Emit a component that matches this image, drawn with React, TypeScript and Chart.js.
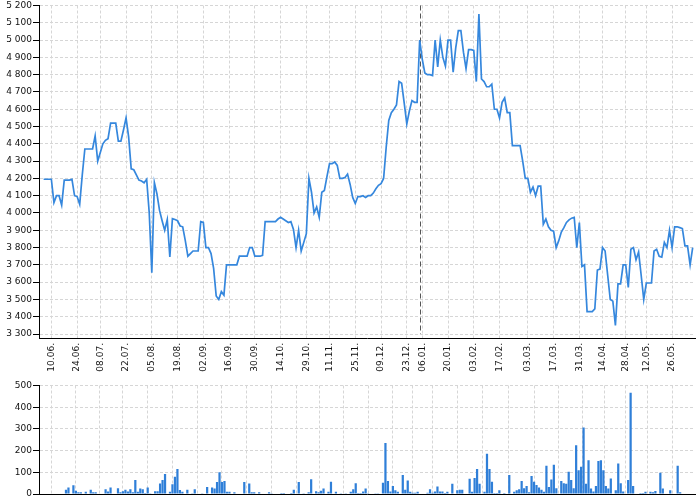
import React, { useEffect, useRef } from 'react';
import { Chart, registerables } from 'chart.js';

Chart.register(...registerables);

// ---- data ----
const prices: number[] = [
  4195, 4195, 4195, 4195, 4060, 4100, 4100, 4045, 4190, 4190,
  4190, 4195, 4100, 4095, 4050, 4220, 4370, 4370, 4370, 4370,
  4445, 4300, 4350, 4400, 4420, 4430, 4520, 4520, 4520, 4415,
  4415, 4480, 4550, 4440, 4255, 4250, 4220, 4190, 4185, 4175,
  4195, 4000, 3655, 4175, 4110, 4015, 3955, 3900, 3962, 3745,
  3967, 3962, 3955, 3925, 3920, 3840, 3750, 3765, 3780, 3780,
  3780, 3950, 3945, 3800, 3800, 3765, 3680, 3520, 3500, 3545,
  3525, 3700, 3700, 3700, 3700, 3700, 3750, 3750, 3750, 3750,
  3800, 3800, 3750, 3750, 3750, 3755, 3950, 3950, 3950, 3950,
  3950, 3965, 3975, 3965, 3955, 3945, 3950, 3905, 3800, 3900,
  3780, 3830, 3880, 4200, 4120, 4000, 4035, 3975, 4120, 4130,
  4210, 4285, 4285, 4295, 4275, 4200, 4200, 4205, 4225, 4165,
  4090, 4055, 4095, 4095, 4100, 4090, 4100, 4100, 4115, 4140,
  4160, 4170, 4200, 4380, 4535, 4580, 4600, 4625, 4760, 4750,
  4635, 4515, 4590, 4650, 4640, 4640, 5000, 4890, 4810, 4800,
  4800, 4795, 5000, 4845, 5000, 4900, 4850, 5000, 5000, 4815,
  4955, 5055, 5055, 4930, 4835, 4945, 4945, 4940, 4760, 5150,
  4775, 4760, 4730, 4730, 4745, 4600, 4600, 4550, 4640, 4665,
  4580, 4580, 4390, 4390, 4390, 4390, 4300, 4200, 4200, 4120,
  4150, 4100, 4155, 4155, 3935, 3965, 3920, 3900, 3895, 3800,
  3840, 3890, 3915, 3945, 3960, 3970, 3975, 3800, 3945, 3690,
  3700, 3430, 3430, 3430, 3445, 3670, 3675, 3800, 3780, 3640,
  3500, 3490, 3350, 3590, 3590, 3700, 3700, 3570, 3790, 3800,
  3730, 3775, 3640, 3500, 3595, 3595, 3595, 3780, 3790, 3750,
  3745, 3830, 3800, 3900, 3800, 3920, 3920, 3915, 3910, 3810,
  3810, 3700, 3800,
];

const volumes: number[] = [
  0, 0, 0, 0, 20, 30, 0, 40, 15, 8,
  8, 0, 10, 0, 20, 8, 8, 0, 0, 0,
  22, 12, 30, 0, 0, 27, 8, 13, 20, 12,
  22, 8, 65, 10, 25, 22, 5, 30, 3, 0,
  13, 13, 48, 65, 92, 0, 10, 45, 80, 115,
  18, 10, 0, 20, 0, 3, 22, 0, 0, 3,
  0, 32, 0, 30, 25, 55, 100, 55, 60, 10,
  10, 0, 8, 0, 0, 0, 55, 0, 48, 8,
  8, 0, 8, 0, 0, 0, 8, 3, 0, 0,
  0, 5, 5, 0, 0, 5, 20, 0, 55, 0,
  3, 0, 8, 68, 0, 13, 8, 15, 25, 0,
  10, 57, 0, 10, 0, 3, 0, 3, 0, 10,
  22, 50, 5, 5, 12, 25, 3, 0, 0, 3,
  3, 0, 52, 235, 60, 12, 37, 17, 10, 0,
  88, 20, 62, 10, 6, 6, 10, 0, 0, 0,
  6, 22, 6, 11, 35, 12, 12, 5, 10, 0,
  47, 0, 17, 20, 20, 0, 0, 70, 10, 74,
  115, 47, 0, 10, 186, 115, 57, 5, 5, 17,
  0, 5, 0, 88, 0, 10, 17, 22, 60, 27,
  37, 8, 83, 56, 42, 30, 20, 10, 130, 32,
  67, 135, 27, 0, 60, 50, 47, 103, 65, 27,
  225, 110, 126, 307, 47, 156, 25, 12, 37, 152,
  156, 110, 37, 25, 72, 0, 17, 140, 50, 12,
  0, 65, 467, 37, 0, 0, 5, 5, 10, 0,
  10, 8, 14, 0, 98, 25, 0, 0, 17, 0,
  0, 130, 8,
];

const tickLabels: string[] = [
  '10.06.', '24.06.', '08.07.', '22.07.', '05.08.', '19.08.', '02.09.', '16.09.',
  '30.09.', '14.10.', '29.10.', '11.11.', '25.11.', '09.12.', '23.12.', '06.01.',
  '20.01.', '03.02.', '17.02.', '03.03.', '17.03.', '31.03.', '14.04.', '28.04.',
  '12.05.', '26.05.',
];
const tickIndex: number[] = [
  3, 13, 22, 32, 42, 52, 62, 72, 82, 92, 102, 111, 121, 131, 141, 147,
  157, 167, 177, 188, 198, 208, 217, 226, 234, 244,
];
const priceTicks: number[] = [
  3300, 3400, 3500, 3600, 3700, 3800, 3900, 4000, 4100, 4200,
  4300, 4400, 4500, 4600, 4700, 4800, 4900, 5000, 5100, 5200,
];
const volumeTicks: number[] = [0, 100, 200, 300, 400, 500];
const markerIndex = 146;

// ---- style ----
const FONT = "'DejaVu Sans', sans-serif";
const LINE_COLOR = '#3587dd';
const BAR_COLOR = '#2f7fd8';
const GRID_COLOR = '#d6d6d6';
const TEXT_COLOR = '#111';

const fmt = (v: number) => String(v).replace(/\B(?=(\d{3})+(?!\d))/g, ' ');

const markerPlugin = {
  id: 'marker',
  beforeDatasetsDraw(chart: any) {
    const { ctx, chartArea, scales } = chart;
    const px = Math.round(scales.x.getPixelForValue(markerIndex)) + 0.5;
    ctx.save();
    ctx.strokeStyle = '#555';
    ctx.lineWidth = 1;
    ctx.setLineDash([5, 3]);
    ctx.beginPath();
    ctx.moveTo(px, chartArea.top);
    ctx.lineTo(px, chartArea.bottom - 4);
    ctx.stroke();
    ctx.restore();
  },
};

function xScale(showLabels: boolean, height: number) {
  return {
    type: 'linear' as const,
    bounds: 'data' as const,
    min: -1.8,
    max: 252.9,
    afterBuildTicks: (s: any) => {
      s.ticks = tickIndex.map((v) => ({ value: v }));
    },
    afterFit: (s: any) => {
      s.height = height;
    },
    ticks: {
      display: showLabels,
      autoSkip: false,
      minRotation: 90,
      maxRotation: 90,
      padding: 5,
      color: TEXT_COLOR,
      font: { family: FONT, size: 9, lineHeight: 1 },
      callback: (_v: any, i: number) => tickLabels[i],
    },
    grid: { color: GRID_COLOR, drawTicks: false },
    border: { display: true, color: '#000', width: 1, dash: [3, 2] },
  };
}

function yScale(min: number, max: number, ticks: number[]) {
  return {
    type: 'linear' as const,
    bounds: 'data' as const,
    min,
    max,
    afterBuildTicks: (s: any) => {
      s.ticks = ticks.map((v) => ({ value: v }));
    },
    afterFit: (s: any) => {
      s.width = 39;
    },
    ticks: {
      padding: 1,
      color: TEXT_COLOR,
      font: { family: FONT, size: 9, lineHeight: 1 },
      callback: (v: any) => fmt(Number(v)),
    },
    grid: {
      color: GRID_COLOR,
      tickColor: '#000',
      tickLength: 6,
      tickBorderDash: [],
      tickWidth: 1,
    },
    border: { display: true, color: '#000', width: 1, dash: [3, 2] },
  };
}

export default function App() {
  const topRef = useRef<HTMLCanvasElement | null>(null);
  const botRef = useRef<HTMLCanvasElement | null>(null);

  useEffect(() => {
    document.body.style.margin = '0';
    const top = new Chart(topRef.current as HTMLCanvasElement, {
      type: 'line',
      data: {
        datasets: [
          {
            data: prices.map((v, i) => ({ x: i, y: v })),
            borderColor: LINE_COLOR,
            borderWidth: 1.7,
            pointRadius: 0,
            tension: 0,
            fill: false,
          },
        ],
      },
      options: {
        animation: false,
        responsive: false,
        maintainAspectRatio: false,
        layout: { padding: { top: 5, right: 5, left: 0, bottom: 0 } },
        plugins: { legend: { display: false }, tooltip: { enabled: false } },
        scales: {
          x: xScale(true, 42),
          y: yScale(3276.9, 5200, priceTicks),
        },
      } as any,
      plugins: [markerPlugin],
    });

    const bot = new Chart(botRef.current as HTMLCanvasElement, {
      type: 'bar',
      data: {
        datasets: [
          {
            data: volumes.map((v, i) => ({ x: i, y: v })),
            backgroundColor: BAR_COLOR,
            borderWidth: 0,
            barPercentage: 1,
            categoryPercentage: 0.9,
          },
        ],
      },
      options: {
        animation: false,
        responsive: false,
        maintainAspectRatio: false,
        layout: { padding: { top: 5, right: 5, left: 0, bottom: 0 } },
        plugins: { legend: { display: false }, tooltip: { enabled: false } },
        scales: {
          x: xScale(false, 6),
          y: yScale(0, 500, volumeTicks),
        },
      } as any,
    });

    return () => {
      top.destroy();
      bot.destroy();
    };
  }, []);

  return (
    <div style={{ position: 'fixed', left: 0, top: 0, width: 700, height: 500, background: '#fff' }}>
      <canvas ref={topRef} width={700} height={380} style={{ position: 'absolute', left: 0, top: 0, display: 'block' }} />
      <canvas ref={botRef} width={700} height={120} style={{ position: 'absolute', left: 0, top: 380, display: 'block' }} />
    </div>
  );
}
